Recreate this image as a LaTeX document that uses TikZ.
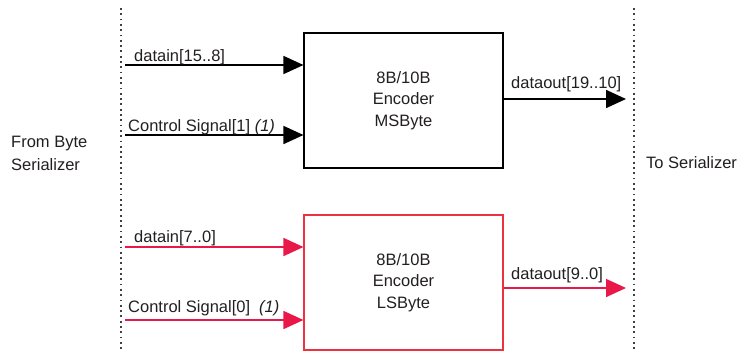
\documentclass[tikz,border=0pt]{standalone}
\usepackage{fontspec}
\setmainfont{Liberation Sans}
\usetikzlibrary{arrows.meta}
\definecolor{myred}{RGB}{232,24,72}
\definecolor{boxred}{RGB}{236,50,62}
\definecolor{txt}{RGB}{35,31,32}
\tikzset{
  lbl/.style={anchor=base west, inner sep=0pt, font=\fontsize{16.5}{23}\selectfont, text=txt},
  encbox/.style={draw, line width=1.1pt, minimum width=199pt, minimum height=135pt, inner sep=0pt, align=center, font=\fontsize{16.5}{21.5}\selectfont, text=txt},
  sig/.style={line width=1.6pt, -{Triangle[length=20pt,width=18pt]}},
  guide/.style={line width=1.4pt, draw=black!75, dash pattern=on 1.8pt off 3.5pt}
}
\begin{document}
\begin{tikzpicture}[x=1pt,y=-1pt]
\useasboundingbox (0,0) rectangle (754,356);
% guides
\coordinate (gLt) at (121,8);
\coordinate (gLb) at (121,352);
\coordinate (gRt) at (634,8);
\coordinate (gRb) at (634,352);
\draw[guide] (gLt) -- (gLb);
\draw[guide] (gRt) -- (gRb);
% boxes
\node[encbox] (msb) at (403.5,100.5) {8B/10B\\Encoder\\MSByte};
\node[encbox, draw=boxred] (lsb) at (403.5,282.5) {8B/10B\\Encoder\\LSByte};
% side texts
\node[lbl, align=left] (from) at (11,170) {From Byte\\Serializer};
\node[lbl] (to) at (646,168) {To Serializer};
% top inputs
\coordinate (i1) at (125,65);
\coordinate (i2) at (125,135);
\coordinate (o1) at (626,99);
\draw[sig] (i1) -- (msb.west |- i1);
\draw[sig] (i2) -- (msb.west |- i2);
\draw[sig] (msb.east |- o1) -- (o1);
\node[lbl] (l1) at (134,61) {datain[15..8]};
\node[lbl] (l2) at (128,131) {Control Signal[1] \textit{(1)}};
\node[lbl] (l3) at (511,88) {dataout[19..10]};
% bottom inputs
\coordinate (i3) at (125,247);
\coordinate (i4) at (125,320);
\coordinate (o2) at (626,288);
\draw[sig, myred] (i3) -- (lsb.west |- i3);
\draw[sig, myred] (i4) -- (lsb.west |- i4);
\draw[sig, myred] (lsb.east |- o2) -- (o2);
\node[lbl] (l4) at (134,242) {datain[7..0]};
\node[lbl] (l5) at (128,312) {Control Signal[0]\hspace{9pt}\textit{(1)}};
\node[lbl] (l6) at (511,279) {dataout[9..0]};
\end{tikzpicture}
\end{document}
